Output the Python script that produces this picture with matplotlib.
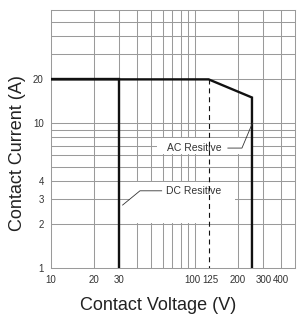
import numpy as np
import matplotlib.pyplot as plt
from matplotlib.patches import Rectangle
from matplotlib.transforms import ScaledTranslation

plt.rcParams['font.family'] = ['Liberation Sans', 'DejaVu Sans']

# dados
dc_volt = [10, 30, 30]
dc_curr = [20, 20, 1]
ac_volt = [10, 125, 250, 250]
ac_curr = [20, 20, 15, 1]
lim_volt = [125, 125]
lim_curr = [20, 1]

xticks = [10, 20, 30, 100, 125, 200, 300, 400]
yticks = [1, 2, 3, 4, 10, 20]
xgrid = [20, 30, 40, 50, 60, 70, 80, 90, 100, 200, 300, 400]
ygrid = [2, 3, 4, 5, 6, 7, 8, 9, 10, 20, 30, 40, 50]

fig = plt.figure(figsize=(2.98, 3.18), dpi=100)
ax = fig.add_axes([0.170, 0.157, 0.821, 0.811])
ax.set_xscale('log')
ax.set_yscale('log')
ax.set_xlim(10, 500)
ax.set_ylim(1, 60)

gc = '#9a9a9a'
for x in xgrid:
    ax.axvline(x, color=gc, lw=0.75, zorder=0.5)
for y in ygrid:
    ax.axhline(y, color=gc, lw=0.75, zorder=0.5)
for s in ax.spines.values():
    s.set_color(gc)
    s.set_linewidth(0.75)

# caixas brancas atras dos textos
ax.add_patch(Rectangle((35.5, 2.05), 190 - 35.5, 3.95 - 2.05, color='white', zorder=1, lw=0))
ax.add_patch(Rectangle((55, 6.08), 245 - 55, 7.92 - 6.08, color='white', zorder=1, lw=0))

ax.plot(dc_volt, dc_curr, color='#111111', lw=1.7, zorder=3, solid_joinstyle='miter')
ax.plot(ac_volt, ac_curr, color='#111111', lw=1.7, zorder=3, solid_joinstyle='miter')
ax.plot(lim_volt, lim_curr, color='#111111', lw=0.8, ls=(0, (4.5, 3.5)), zorder=3)

# textos e linhas de chamada
ax.text(64, 6.72, 'AC Resitive', fontsize=7.5, color='#333333', va='center', ha='left', zorder=2)
ax.plot([170, 213, 252], [6.72, 6.72, 10], color='#333333', lw=0.6, zorder=3)
ax.text(63, 3.40, 'DC Resitive', fontsize=7.5, color='#333333', va='center', ha='left', zorder=2)
ax.plot([31.6, 41.7, 59], [2.72, 3.41, 3.41], color='#333333', lw=0.6, zorder=3)

ax.set_xticks(xticks)
ax.set_xticklabels([str(v) for v in xticks])
ax.set_yticks(yticks)
ax.set_yticklabels([str(v) for v in yticks])
ax.xaxis.set_minor_locator(plt.NullLocator())
ax.yaxis.set_minor_locator(plt.NullLocator())
ax.tick_params(length=0, labelsize=7, labelcolor='#333333', pad=5)

# afasta um pouco os rotulos 100 e 125
labs = ax.get_xticklabels()
labs[3].set_transform(labs[3].get_transform() + ScaledTranslation(-2.5 / 100, 0, fig.dpi_scale_trans))
labs[4].set_transform(labs[4].get_transform() + ScaledTranslation(1.5 / 100, 0, fig.dpi_scale_trans))

fig.text(18 / 298, 1 - 153 / 318, 'Contact Current (A)', rotation=90, fontsize=13,
         color='#222222', ha='center', va='center')
fig.text(158.5 / 298, 1 - 306 / 318, 'Contact Voltage (V)', fontsize=13,
         color='#222222', ha='center', va='center')

plt.savefig('out.png', dpi=100)
